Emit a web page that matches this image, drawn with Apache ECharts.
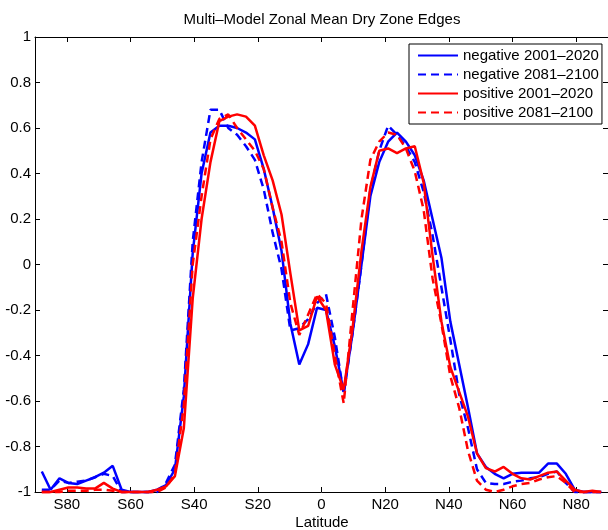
<!DOCTYPE html>
<html><head><meta charset="utf-8">
<script src="https://cdn.jsdelivr.net/npm/echarts@6/dist/echarts.min.js"></script>
<style>html,body{margin:0;padding:0;background:#fff}#c{width:608px;height:530px}</style>
</head><body><div id="c"></div>
<script>
// Latitudes (T42 Gaussian grid)
const latitudes = [-87.86,-85.10,-82.31,-79.53,-76.74,-73.95,-71.16,-68.37,-65.58,-62.79,-60.00,-57.21,-54.42,-51.63,-48.84,-46.04,-43.25,-40.46,-37.67,-34.88,-32.09,-29.30,-26.51,-23.72,-20.93,-18.14,-15.35,-12.56,-9.77,-6.98,-4.19,-1.40,
  1.40,4.19,6.98,9.77,12.56,15.35,18.14,20.93,23.72,26.51,29.30,32.09,34.88,37.67,40.46,43.25,46.04,48.84,51.63,54.42,57.21,60.00,62.79,65.58,68.37,71.16,73.95,76.74,79.53,82.31,85.10,87.86];

const negative2001 = [-0.91,-0.99,-0.94,-0.96,-0.965,-0.95,-0.935,-0.915,-0.885,-0.99,-1.0,-1.0,-1.0,-0.99,-0.97,-0.90,-0.58,0.05,0.40,0.58,0.61,0.61,0.60,0.58,0.55,0.42,0.25,0.06,-0.26,-0.44,-0.35,-0.19,
  -0.20,-0.36,-0.56,-0.30,0.0,0.30,0.45,0.54,0.58,0.54,0.48,0.37,0.20,0.03,-0.25,-0.44,-0.63,-0.83,-0.89,-0.92,-0.94,-0.92,-0.915,-0.915,-0.915,-0.875,-0.875,-0.92,-0.99,-1.0,-1.0,-1.0];

const negative2081 = [-0.99,-0.99,-0.95,-0.96,-0.955,-0.95,-0.935,-0.92,-0.93,-1.0,-1.0,-1.0,-1.0,-1.0,-0.96,-0.88,-0.55,0.10,0.45,0.68,0.68,0.60,0.57,0.52,0.46,0.33,0.14,-0.02,-0.29,-0.28,-0.24,-0.17,
  -0.13,-0.32,-0.57,-0.30,0.0,0.33,0.50,0.61,0.57,0.52,0.45,0.32,0.13,-0.10,-0.33,-0.57,-0.72,-0.90,-0.96,-0.965,-0.965,-0.955,-0.95,-0.94,-0.935,-0.92,-0.91,-0.96,-1.0,-1.0,-1.0,-1.0];

const positive2001 = [-1.0,-1.0,-0.99,-0.98,-0.98,-0.985,-0.985,-0.96,-0.985,-1.0,-1.0,-1.0,-1.0,-0.99,-0.975,-0.93,-0.72,-0.15,0.20,0.45,0.63,0.65,0.66,0.65,0.61,0.48,0.37,0.22,-0.04,-0.29,-0.27,-0.14,
  -0.20,-0.44,-0.55,-0.28,0.06,0.34,0.50,0.51,0.49,0.51,0.52,0.36,0.04,-0.25,-0.45,-0.56,-0.67,-0.83,-0.895,-0.91,-0.89,-0.92,-0.94,-0.945,-0.93,-0.915,-0.91,-0.95,-0.99,-1.0,-0.995,-1.0];

const positive2081 = [-1.0,-1.0,-1.0,-0.995,-0.995,-0.995,-0.99,-0.99,-0.995,-1.0,-1.0,-1.0,-1.0,-1.0,-0.98,-0.92,-0.62,0.0,0.30,0.55,0.64,0.66,0.60,0.55,0.50,0.42,0.25,0.10,-0.17,-0.31,-0.22,-0.13,
  -0.17,-0.40,-0.61,-0.20,0.20,0.46,0.54,0.58,0.57,0.51,0.41,0.24,-0.06,-0.26,-0.49,-0.63,-0.82,-0.95,-0.99,-1.0,-0.99,-0.975,-0.965,-0.96,-0.945,-0.935,-0.93,-0.96,-1.0,-1.0,-1.0,-1.0];

const seriesNames = ['negative 2001\u20132020','negative 2081\u20132100','positive 2001\u20132020','positive 2081\u20132100'];
const xTickValues = [-80,-60,-40,-20,0,20,40,60,80];
const xTickLabels = ['S80','S60','S40','S20','0','N20','N40','N60','N80'];
const titleText = 'Multi\u2013Model Zonal Mean Dry Zone Edges';
const xAxisTitle = 'Latitude';

const FONT = '"Liberation Sans", Arial, Helvetica, sans-serif';
const chart = echarts.init(document.getElementById('c'), null, {renderer: 'canvas'});
const pairs = arr => latitudes.map((x, i) => [x, arr[i]]);
const black = '#000';
const tickLabel = v => { const i = xTickValues.indexOf(Math.round(v)); return i >= 0 ? xTickLabels[i] : ''; };
const xAx = (pos, showLabel) => ({
  type: 'value', position: pos, min: -90, max: 90,
  axisLine: {show: true, onZero: false, lineStyle: {color: black, width: 1}},
  axisTick: {show: true, inside: true, length: 5, customValues: xTickValues, lineStyle: {color: black}},
  axisLabel: {show: showLabel, customValues: xTickValues, formatter: tickLabel, color: black, fontSize: 15, fontFamily: FONT, margin: 5},
  splitLine: {show: false}
});
const yAx = (pos, showLabel) => ({
  type: 'value', position: pos, min: -1, max: 1, interval: 0.2,
  axisLine: {show: true, onZero: false, lineStyle: {color: black, width: 1}},
  axisTick: {show: true, inside: true, length: 5, lineStyle: {color: black}},
  axisLabel: {show: showLabel, color: black, fontSize: 15, fontFamily: FONT, margin: 4,
    formatter: v => String(Math.round(v * 10) / 10)},
  splitLine: {show: false}
});
const mk = (name, arr, color, dashed) => ({
  name, type: 'line', data: pairs(arr), symbol: 'none', showSymbol: false, clip: false,
  lineStyle: {color, width: 2.5, type: dashed ? [8, 5] : 'solid'},
  itemStyle: {color}, emphasis: {disabled: true}
});
chart.setOption({
  animation: false,
  backgroundColor: '#fff',
  grid: {left: 35, top: 37, width: 574, height: 455, containLabel: false},
  xAxis: [xAx('bottom', true), xAx('top', false)],
  yAxis: [yAx('left', true), yAx('right', false)],
  legend: {
    orient: 'vertical', left: 409, top: 44, padding: [4, 3, 4, 8],
    itemWidth: 40, itemHeight: 14, itemGap: 4,
    borderColor: black, borderWidth: 1, backgroundColor: '#fff', borderRadius: 0,
    itemStyle: {opacity: 0, borderWidth: 0},
    textStyle: {fontSize: 15, color: black, fontFamily: FONT},
    data: seriesNames
  },
  graphic: [
    {type: 'text', x: 322, y: 20, style: {text: titleText, font: '15px ' + FONT, fill: black, textAlign: 'center', textVerticalAlign: 'middle'}},
    {type: 'text', x: 322, y: 523, style: {text: xAxisTitle, font: '15px ' + FONT, fill: black, textAlign: 'center', textVerticalAlign: 'middle'}}
  ],
  series: [
    mk(seriesNames[0], negative2001, '#0000ff', false),
    mk(seriesNames[1], negative2081, '#0000ff', true),
    mk(seriesNames[2], positive2001, '#ff0000', false),
    mk(seriesNames[3], positive2081, '#ff0000', true)
  ]
});
</script></body></html>
